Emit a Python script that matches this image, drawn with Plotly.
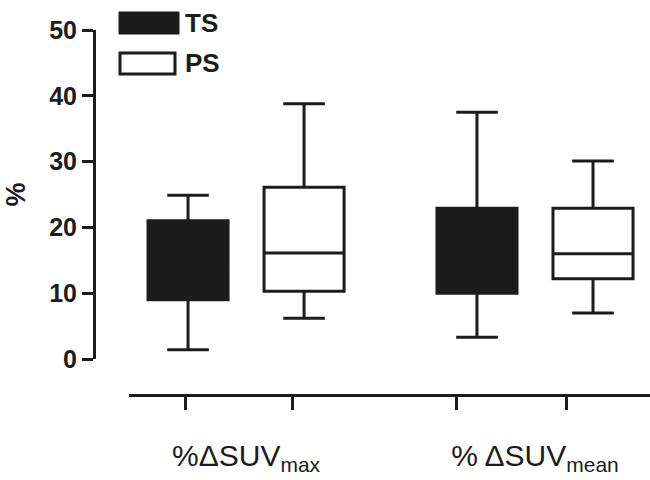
import plotly.graph_objects as go

# ---- data ----
categories = ["%ΔSUV<sub>max</sub>", "% ΔSUV<sub>mean</sub>"]
groups = ["TS", "PS"]

ts_lower = [1.4, 3.3]
ts_q1 = [9.0, 10.0]
ts_median = [14.0, 15.0]   # hidden by the solid fill
ts_q3 = [21.0, 22.9]
ts_upper = [24.9, 37.5]

ps_lower = [6.2, 7.0]
ps_q1 = [10.3, 12.2]
ps_median = [16.1, 16.0]
ps_q3 = [26.1, 22.9]
ps_upper = [38.8, 30.1]

y_ticks = [0, 10, 20, 30, 40, 50]
x_tick_positions = [-0.21, 0.16, 0.73, 1.11]

INK = "#1c1c1c"
FONT = "Liberation Sans, Arial, sans-serif"

fig = go.Figure()
fig.add_trace(go.Box(
    name=groups[0], x=categories, q1=ts_q1, median=ts_median, q3=ts_q3,
    lowerfence=ts_lower, upperfence=ts_upper,
    fillcolor=INK, line=dict(color=INK, width=3), whiskerwidth=0.52,
    boxpoints=False, showlegend=False, hoverinfo="skip",
))
fig.add_trace(go.Box(
    name=groups[1], x=categories, q1=ps_q1, median=ps_median, q3=ps_q3,
    lowerfence=ps_lower, upperfence=ps_upper,
    fillcolor="white", line=dict(color=INK, width=3), whiskerwidth=0.52,
    boxpoints=False, showlegend=False, hoverinfo="skip",
))
# empty trace to activate the overlay axis carrying the visible x line + ticks
fig.add_trace(go.Scatter(x=[], y=[], xaxis="x2", yaxis="y", showlegend=False,
                         hoverinfo="skip"))

xr = [-0.405, 1.398]
fig.update_layout(
    width=650, height=480,
    margin=dict(l=94, r=0, t=30, b=85),
    paper_bgcolor="white", plot_bgcolor="white",
    boxmode="group", boxgap=0.197, boxgroupgap=0.31,
    font=dict(family=FONT, color=INK),
    xaxis=dict(
        type="category", range=xr, domain=[0.063, 1],
        anchor="free", position=0,
        showline=False, ticks="", showgrid=False, zeroline=False,
        tickfont=dict(size=30, family=FONT, color=INK),
        ticklabelstandoff=40,
    ),
    xaxis2=dict(
        overlaying="x", range=xr, domain=[0.063, 1],
        anchor="free", position=0,
        showline=True, linewidth=3, linecolor=INK,
        ticks="outside", ticklen=13, tickwidth=3, tickcolor=INK,
        tickvals=x_tick_positions, showticklabels=False,
        showgrid=False, zeroline=False,
    ),
    yaxis=dict(
        range=[0, 50], domain=[36 / 365, 1],
        anchor="free", position=0,
        showline=True, linewidth=3, linecolor=INK,
        ticks="outside", ticklen=11, tickwidth=3, tickcolor=INK,
        tickvals=y_ticks,
        tickfont=dict(size=25, family=FONT, color=INK, weight="bold"),
        showgrid=False, zeroline=False,
        title=dict(text="<b>%</b>", font=dict(size=27, family=FONT, color=INK),
                   standoff=14),
    ),
    shapes=[
        dict(type="rect", xref="paper", yref="paper",
             x0=(119 - 94) / 556, x1=(179 - 94) / 556,
             y0=(395 - 34) / 365, y1=(395 - 12) / 365,
             fillcolor=INK, line=dict(color=INK, width=1)),
        dict(type="rect", xref="paper", yref="paper",
             x0=(120 - 94) / 556, x1=(175 - 94) / 556,
             y0=(395 - 74) / 365, y1=(395 - 53) / 365,
             fillcolor="white", line=dict(color=INK, width=3)),
    ],
    annotations=[
        dict(text="<b>TS</b>", xref="paper", yref="paper",
             x=(183 - 94) / 556, y=(395 - 23) / 365, xanchor="left", yanchor="middle",
             showarrow=False, font=dict(size=26, family=FONT, color=INK)),
        dict(text="<b>PS</b>", xref="paper", yref="paper",
             x=(183 - 94) / 556, y=(395 - 63) / 365, xanchor="left", yanchor="middle",
             showarrow=False, font=dict(size=26, family=FONT, color=INK)),
    ],
)

fig.write_html(
    "out.html",
    config={"displayModeBar": False},
    post_script="document.body.style.margin='0';document.body.style.overflow='hidden';",
)
